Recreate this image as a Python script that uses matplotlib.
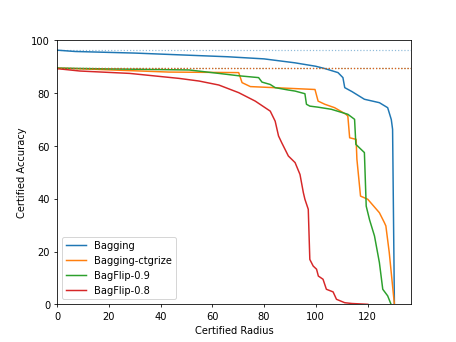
import matplotlib
matplotlib.use("Agg")
import matplotlib.pyplot as plt

# certified radius / certified accuracy
bag_r = [0, 7, 30, 66, 80, 92, 100, 103.6, 108.6, 110.5, 111.2, 114, 118.8, 124.6, 127.8, 129.2, 129.7, 130.4]
bag_acc = [96.3, 95.8, 95.2, 93.8, 93.0, 91.5, 90.2, 89.3, 87.8, 85.9, 82.1, 80.6, 77.7, 76.4, 74.5, 70.0, 66.3, 0]

ctg_r = [0, 10, 43.3, 70.2, 71.5, 74.7, 99.7, 100.9, 103.5, 107.3, 111.7, 112.4, 113.1, 115.6, 115.9, 117.3,
         120.1, 124.6, 126.5, 127.1, 128.4, 130.4]
ctg_acc = [89.5, 89.2, 88.0, 87.8, 84.0, 82.5, 81.4, 77.0, 75.8, 74.5, 72.0, 71.3, 63.1, 62.5, 55.0, 41.0,
           39.8, 34.7, 31.0, 29.7, 19.7, 0]

bf9_r = [0, 20, 51, 62.5, 70.2, 77.9, 79.2, 82.4, 84.3, 89.4, 92, 95.8, 96.4, 97.7, 100.9, 106, 112.4, 115,
         115.5, 118.8, 119.5, 120.8, 122.7, 124.6, 125.9, 127.8, 129.1]
bf9_acc = [89.5, 89.2, 88.8, 87.5, 86.6, 85.9, 84.2, 83.3, 82.1, 81.2, 80.8, 79.8, 75.8, 75.1, 74.7, 73.9,
           72.0, 70.1, 60.6, 57.5, 37.2, 32.0, 25.9, 15.8, 5.7, 3.2, 0]

bf8_r = [0, 8.8, 28, 47.2, 54.9, 62.5, 70.2, 76.6, 82.4, 84.3, 85.6, 86.8, 89.4, 92, 93.9, 95.2, 95.8, 97.1,
         97.7, 99, 100.3, 101, 102.8, 104.1, 106.7, 108, 111.2, 114, 120.1]
bf8_acc = [89.3, 88.4, 87.5, 85.6, 84.6, 83.1, 80.2, 77.0, 73.2, 69.4, 63.8, 61.3, 56.2, 53.7, 49.2, 42.3,
           39.8, 36.0, 17.0, 14.5, 13.3, 10.7, 9.5, 5.7, 4.7, 1.9, 0.6, 0.3, 0]

# clean accuracy (dotted reference lines)
clean_acc = [96.3, 89.5, 89.5, 89.5]

labels = ["Bagging", "Bagging-ctgrize", "BagFlip-0.9", "BagFlip-0.8"]
colors = ["tab:blue", "tab:orange", "tab:green", "tab:red"]


def main():
    fig, ax = plt.subplots(figsize=(6.4, 4.8))
    series = [(bag_r, bag_acc), (ctg_r, ctg_acc), (bf9_r, bf9_acc), (bf8_r, bf8_acc)]
    for (r, acc), lab, c in zip(series, labels, colors):
        ax.plot(r, acc, color=c, label=lab)
    # draw order so orange ends up on top of the red dots
    for i in [0, 2, 3, 1]:
        ax.axhline(clean_acc[i], color=colors[i], linestyle=":", linewidth=1.2,
                   alpha=0.5 if i in (0, 1) else 0.8)
    ax.set_ylim(0, 100)
    ax.set_xlim(left=0)
    ax.set_xlabel("Certified Radius")
    ax.set_ylabel("Certified Accuracy")
    ax.legend(loc="lower left")
    fig.savefig("out.png", dpi=71.4)


if __name__ == "__main__":
    main()
